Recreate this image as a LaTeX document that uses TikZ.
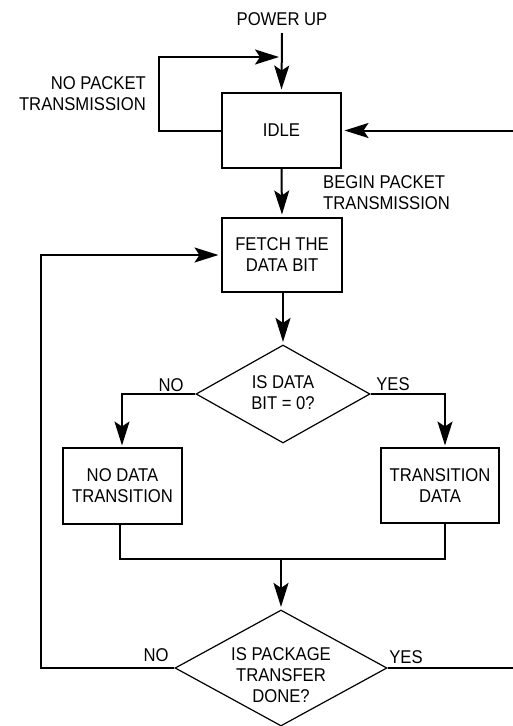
\documentclass[tikz,border=0pt]{standalone}
\usepackage{fontspec}
\setmainfont[FakeStretch=0.9]{Liberation Sans}
\usetikzlibrary{arrows.meta,shapes.geometric}
\begin{document}
\begin{tikzpicture}[x=1pt,y=-1pt,
  font=\fontsize{18.5}{21}\selectfont,
  box/.style={draw,line width=2pt,align=center,inner sep=0pt},
  dia/.style={draw,diamond,line width=1.2pt,inner sep=0pt},
  txt/.style={inner sep=0pt,align=center},
  conn/.style={line width=2pt},
  arr/.style={line width=2pt,-{Stealth[length=24pt,width=15pt,inset=5pt]},shorten >=2.5pt}]
\useasboundingbox (0,0) rectangle (512,726);
% nodes
\node[txt] (pu) at (282,19) {POWER UP};
\node[box,minimum width=119pt,minimum height=75pt] (idle) at (281.5,130.5) {IDLE};
\node[box,minimum width=120pt,minimum height=74pt] (fetch) at (282,255) {FETCH THE\\DATA BIT};
\node[dia,minimum width=174pt,minimum height=98pt] (d1) at (283,394) {};
\node[txt] (d1t) at (283,393) {IS DATA\\BIT = 0?};
\node[box,minimum width=119pt,minimum height=76pt] (nd) at (122.5,486) {NO DATA\\TRANSITION};
\node[box,minimum width=118pt,minimum height=75pt] (td) at (440,485.5) {TRANSITION\\DATA};
\node[dia,minimum width=212pt,minimum height=116pt] (d2) at (281,668) {};
\node[txt] (d2t) at (281,675) {IS PACKAGE\\TRANSFER\\DONE?};
% labels
\node[txt,anchor=east,align=right] (npt) at (146,93.5) {NO PACKET\\TRANSMISSION};
\node[txt,anchor=west,align=left] (bpt) at (323,192.5) {BEGIN PACKET\\TRANSMISSION};
\node[txt] (no1) at (171,385) {NO};
\node[txt] (yes1) at (393,384) {YES};
\node[txt] (no2) at (156,655) {NO};
\node[txt] (yes2) at (406,657) {YES};
% coordinates
\coordinate (pw) at (282,33);
\coordinate (lpA) at (159,130.5);
\coordinate (lpB) at (159,57);
\coordinate (lpC) at (279,57);
\coordinate (rx) at (522,668);
\coordinate (ry) at (522,130.5);
\coordinate (lx) at (41,668);
\coordinate (mg) at (281,559);
\coordinate (ndb) at (120,524);
\coordinate (tdb) at (445,523);
\coordinate (ndt) at (122,448);
\coordinate (tdt) at (445,448);
\coordinate (d1b) at (283,292);
% connectors
\draw[arr] (pw) -- (idle.north);
\draw[arr,shorten >=0pt] (idle.west) -- (lpA) -- (lpB) -- (lpC);
\draw[arr] (d2.east) -- (rx) -- (ry) -- (idle.east);
\draw[arr] (idle.south) -- (fetch.north);
\draw[arr] (d2.west) -- (lx) |- (fetch.west);
\draw[arr] (d1b) -- (d1.north);
\draw[arr] (d1.west) -| (ndt);
\draw[arr] (d1.east) -| (tdt);
\draw[conn] (ndb) |- (mg) -| (tdb);
\draw[arr] (mg) -- (d2.north);
\end{tikzpicture}
\end{document}
